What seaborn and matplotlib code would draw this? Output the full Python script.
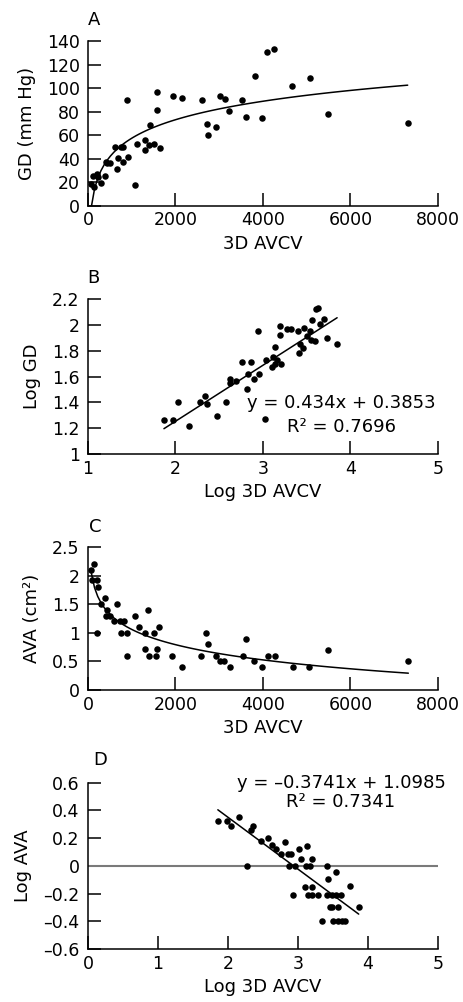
# GD and AVA against 3D AVCV, four stacked scatter panels

import numpy as np
import pandas as pd
import seaborn as sns
import matplotlib
matplotlib.use("Agg")
import matplotlib.pyplot as plt
from matplotlib.ticker import FormatStrFormatter

# panel A: 3D AVCV vs GD (mm Hg)
a_avcv = [76, 137, 122, 213, 229, 305, 381, 404, 434, 495, 610, 663, 686, 762, 800, 800,
          891, 914, 1074, 1128, 1295, 1303, 1394, 1425, 1501, 1577, 1585, 1646, 1943, 2141,
          2598, 2712, 2735, 2933, 3010, 3124, 3230, 3520, 3619, 3825, 3977, 4091, 4259,
          4663, 5082, 5493, 7307]
a_gd = [18.2, 16.2, 25.6, 27.3, 24.7, 19.3, 25.6, 37.5, 36.0, 36.6, 50.3, 31.0, 40.3, 50.3,
        50.3, 37.5, 90.0, 41.2, 17.6, 52.3, 47.4, 56.0, 51.4, 68.7, 52.5, 81.5, 97.0, 49.4,
        93.0, 91.7, 90.0, 69.6, 60.0, 66.7, 93.0, 90.9, 80.4, 90.0, 75.3, 110.5, 74.4,
        131.0, 133.2, 102.0, 109.0, 78.4, 70.7]

# panel B: log 3D AVCV vs log GD
b_logavcv = [1.868, 1.971, 2.024, 2.150, 2.279, 2.336, 2.355, 2.469, 2.572, 2.618, 2.622,
             2.694, 2.759, 2.823, 2.816, 2.865, 2.892, 2.945, 2.953, 3.021, 3.037, 3.105,
             3.116, 3.132, 3.139, 3.162, 3.189, 3.193, 3.204, 3.269, 3.322, 3.402, 3.410,
             3.421, 3.455, 3.470, 3.501, 3.535, 3.562, 3.543, 3.596, 3.611, 3.627, 3.657,
             3.699, 3.729, 3.847]
b_loggd = [1.264, 1.264, 1.405, 1.213, 1.405, 1.449, 1.385, 1.292, 1.405, 1.582, 1.551,
           1.569, 1.710, 1.618, 1.503, 1.710, 1.582, 1.951, 1.618, 1.269, 1.731, 1.674,
           1.749, 1.828, 1.700, 1.731, 1.918, 1.992, 1.695, 1.969, 1.964, 1.951, 1.782,
           1.854, 1.823, 1.974, 1.913, 1.951, 2.038, 1.879, 1.874, 2.123, 2.131, 2.008,
           2.046, 1.897, 1.849]
b_slope, b_icpt, b_r2 = 0.434, 0.3853, 0.7696

# panel C: 3D AVCV vs AVA (cm2)
c_avcv = [76, 137, 99, 214, 229, 214, 290, 382, 427, 412, 496, 588, 664, 740, 763, 824,
          901, 885, 1069, 1160, 1313, 1313, 1374, 1397, 1511, 1565, 1580, 1618, 1916, 2153,
          2590, 2697, 2743, 2918, 3010, 3101, 3238, 3535, 3604, 3787, 3970, 4114, 4282,
          4686, 5044, 5493, 7322]
c_ava = [2.11, 2.21, 1.92, 1.92, 1.81, 1.00, 1.50, 1.62, 1.41, 1.30, 1.30, 1.21, 1.50, 1.21,
         1.00, 1.21, 1.00, 0.60, 1.30, 1.11, 1.00, 0.71, 1.41, 0.60, 1.00, 0.60, 0.71, 1.11,
         0.60, 0.40, 0.60, 1.00, 0.81, 0.60, 0.50, 0.50, 0.40, 0.60, 0.90, 0.50, 0.40, 0.60,
         0.60, 0.40, 0.40, 0.70, 0.50]

# panel D: log 3D AVCV vs log AVA
d_logavcv = [1.855, 1.979, 2.036, 2.159, 2.273, 2.335, 2.354, 2.478, 2.578, 2.630, 2.692,
             2.763, 2.820, 2.858, 2.901, 2.868, 2.954, 2.935, 3.020, 3.039, 3.125, 3.115,
             3.168, 3.196, 3.101, 3.196, 3.144, 3.201, 3.282, 3.339, 3.415, 3.429, 3.415,
             3.486, 3.548, 3.610, 3.548, 3.462, 3.486, 3.567, 3.496, 3.577, 3.629, 3.677,
             3.738, 3.867]
d_logava = [0.325, 0.325, 0.284, 0.349, 0.0, 0.259, 0.288, 0.177, 0.204, 0.150, 0.124,
            0.085, 0.175, 0.085, 0.085, 0.0, 0.0, -0.213, 0.121, 0.046, 0.145, 0.0, 0.0,
            0.046, -0.150, -0.150, -0.213, -0.213, -0.213, -0.400, 0.0, -0.097, -0.213,
            -0.213, -0.213, -0.213, -0.044, -0.296, -0.296, -0.296, -0.400, -0.400, -0.400,
            -0.400, -0.148, -0.296]
d_slope, d_icpt, d_r2 = -0.3741, 1.0985, 0.7341

sns.set_style("ticks")
plt.rcParams["font.family"] = ["DejaVu Sans"]
plt.rcParams["font.size"] = 13
for k in ("text.color", "axes.labelcolor", "xtick.color", "ytick.color", "axes.edgecolor"):
    plt.rcParams[k] = "black"
# inward ticks, long, like the original figure
plt.rcParams.update({
    "xtick.direction": "in", "ytick.direction": "in",
    "xtick.major.size": 9.5, "ytick.major.size": 9.5,
    "xtick.major.width": 1.1, "ytick.major.width": 1.1,
    "xtick.major.pad": 4, "ytick.major.pad": 6,
    "xtick.labelsize": 12.5, "ytick.labelsize": 12.5,
    "axes.linewidth": 1.1,
})

fig = plt.figure(figsize=(4.64, 10.02), dpi=100)
W, H = 464, 1002


def make_ax(top, bottom):
    # pixel rows of the plot area -> figure fraction
    return fig.add_axes([88 / W, 1 - bottom / H, 350 / W, (bottom - top) / H])


scat = dict(s=22, color="black", linewidths=0, alpha=1)
line = dict(color="black", lw=1.1)

axA = make_ax(41.3, 205.7)
sns.regplot(x=a_avcv, y=a_gd, logx=True, ci=None, ax=axA, scatter_kws=scat, line_kws=line)
axA.set(xlim=(0, 8000), ylim=(0, 140), xticks=range(0, 8001, 2000), yticks=range(0, 141, 20))
axA.set_xlabel("3D AVCV")
axA.set_ylabel("GD (mm Hg)")

axB = make_ax(299, 454)
sns.scatterplot(x=b_logavcv, y=b_loggd, ax=axB, **scat)
bx = np.array([min(b_logavcv), max(b_logavcv)])
sns.lineplot(x=bx, y=b_slope * bx + b_icpt, ax=axB, **line)
axB.set(xlim=(1, 5), ylim=(1, 2.2), xticks=range(1, 6), yticks=np.arange(1, 2.21, 0.2))
axB.set_xlabel("Log 3D AVCV")
axB.set_ylabel("Log GD")
axB.text(0.723, 0.329, f"y = {b_slope}x + {b_icpt}", transform=axB.transAxes,
         ha="center", va="center")
axB.text(0.723, 0.176, f"R² = {b_r2}", transform=axB.transAxes, ha="center", va="center")

axC = make_ax(547.3, 690)
sns.regplot(x=c_avcv, y=c_ava, logx=True, ci=None, ax=axC, scatter_kws=scat, line_kws=line)
axC.set(xlim=(0, 8000), ylim=(0, 2.5), xticks=range(0, 8001, 2000), yticks=np.arange(0, 2.51, 0.5))
axC.set_xlabel("3D AVCV")
axC.set_ylabel("AVA (cm²)")

axD = make_ax(782.7, 949)
axD.axhline(0, color="#7a7a7a", lw=1.5, zorder=1)
sns.scatterplot(x=d_logavcv, y=d_logava, ax=axD, zorder=3, **scat)
dx = np.array([min(d_logavcv), max(d_logavcv)])
sns.lineplot(x=dx, y=d_slope * dx + d_icpt, ax=axD, **line)
axD.set(xlim=(0, 5), ylim=(-0.6, 0.6), xticks=range(0, 6), yticks=np.arange(-0.6, 0.61, 0.2))
axD.set_xlabel("Log 3D AVCV")
axD.set_ylabel("Log AVA")
axD.text(0.723, 1.0, f"y = \u2013{abs(d_slope)}x + {d_icpt}", transform=axD.transAxes,
         ha="center", va="center")
axD.text(0.723, 0.886, f"R² = {d_r2}", transform=axD.transAxes, ha="center", va="center")

for ax in (axA, axB, axC, axD):
    sns.despine(ax=ax)
    ax.yaxis.set_major_formatter(FormatStrFormatter("%g"))
    ax.xaxis.labelpad = 4
    ax.yaxis.labelpad = 8

axD.yaxis.set_major_formatter(lambda v, p: f"{v:g}".replace("-", "\u2013") if abs(v) > 1e-9 else "0")

for letter, px, py in (("A", 94, 20), ("B", 93, 278), ("C", 95, 527), ("D", 100, 760)):
    fig.text(px / W, 1 - py / H, letter, ha="center", va="center", fontsize=13)

fig.savefig("out.png", dpi=100)
